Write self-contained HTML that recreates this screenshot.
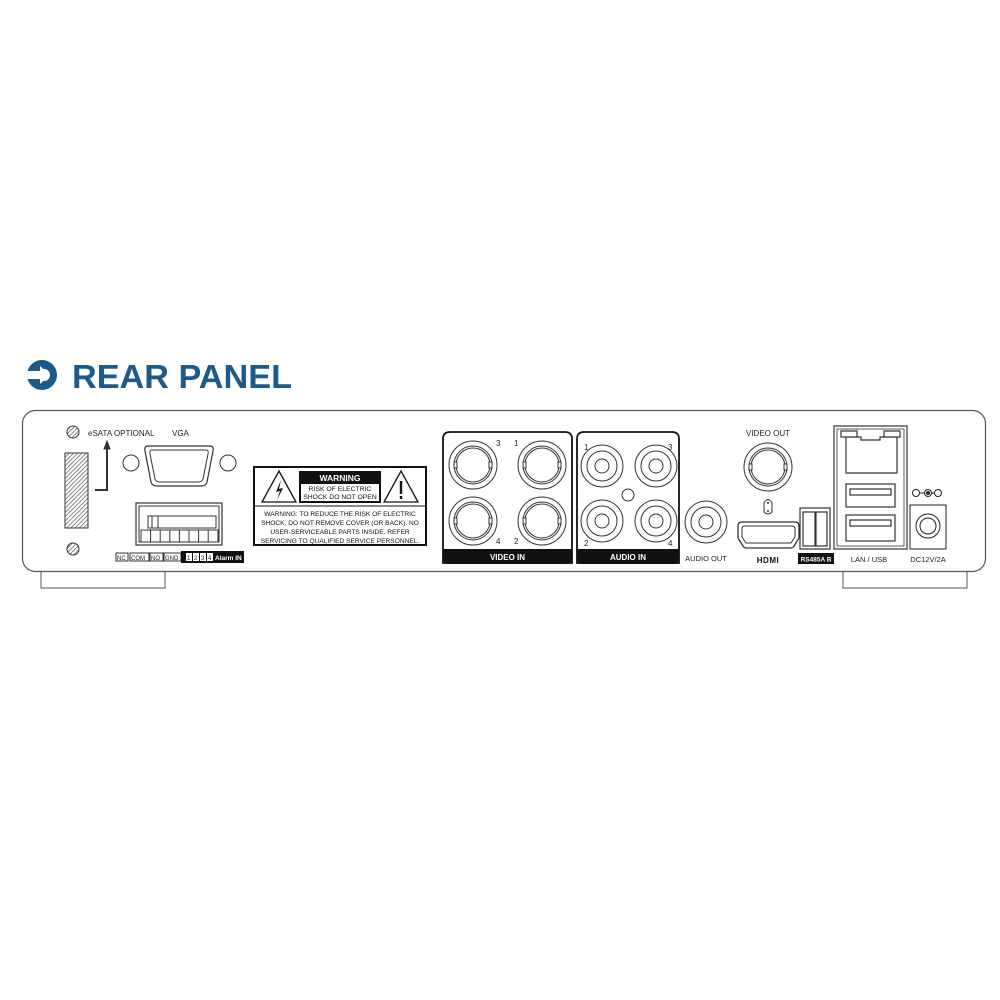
<!DOCTYPE html>
<html><head><meta charset="utf-8"><style>
html,body{margin:0;padding:0;background:#fff;}
svg{display:block;font-family:"Liberation Sans",Arial,sans-serif;}
</style></head><body>
<svg width="1000" height="1000" viewBox="0 0 1000 1000" xmlns="http://www.w3.org/2000/svg">
<defs>
<pattern id="h" width="3" height="3" patternUnits="userSpaceOnUse" patternTransform="rotate(45)">
<rect width="3" height="3" fill="#fff"/><line x1="0" y1="0" x2="0" y2="3" stroke="#555" stroke-width="1.4"/>
</pattern>
</defs>
<!-- title -->
<circle cx="42" cy="375" r="15" fill="#1d5a8c"/>
<circle cx="44" cy="375" r="6" fill="#fff"/>
<polygon points="26,371 40,371 40,366 50,375 40,384 40,379 26,379" fill="#fff"/>
<polygon points="28,371 38,371 38,379 28,379" fill="#1d5a8c" opacity="0"/>
<text x="72" y="388" font-size="33" font-weight="bold" fill="#1d5a8c" textLength="220" lengthAdjust="spacingAndGlyphs">REAR PANEL</text>

<!-- feet -->
<rect x="41" y="568" width="124" height="20" fill="#fff" stroke="#555" stroke-width="1"/>
<rect x="843" y="568" width="124" height="20" fill="#fff" stroke="#555" stroke-width="1"/>
<!-- panel -->
<rect x="22.5" y="410.5" width="963" height="161" rx="13" fill="#fff" stroke="#555" stroke-width="1.2"/>

<g stroke="#333" fill="none" stroke-width="1">
<!-- left section -->
<circle cx="73" cy="432" r="6" fill="url(#h)"/>
<circle cx="73" cy="549" r="6" fill="url(#h)"/>
<rect x="65" y="453" width="23" height="75" fill="url(#h)"/>
<polyline points="95,490 107,490 107,446" stroke-width="2"/>
<polygon points="104,449 107,441 110,449" fill="#333"/>
<circle cx="131" cy="463" r="8"/>
<circle cx="228" cy="463" r="8"/>
<path d="M148,446 H210 Q214,446 213,451 L207,482 Q206,486 201,486 H157 Q152,486 151,482 L145,451 Q144,446 148,446Z" stroke-width="1.2"/>
<path d="M152,450 H206 Q209,450 208,454 L203,479 Q202,482 198,482 H160 Q156,482 155,479 L150,454 Q149,450 152,450Z"/>
<rect x="136" y="503" width="86" height="42" stroke-width="1.2"/>
<rect x="139" y="506" width="80" height="36"/>
<rect x="148" y="516" width="68" height="12"/>
<line x1="152" y1="516" x2="152" y2="528"/><line x1="158" y1="516" x2="158" y2="528"/>
<rect x="141" y="530" width="77" height="12"/>
<line x1="150.6" y1="530" x2="150.6" y2="542"/><line x1="160.2" y1="530" x2="160.2" y2="542"/><line x1="169.8" y1="530" x2="169.8" y2="542"/><line x1="179.4" y1="530" x2="179.4" y2="542"/><line x1="189" y1="530" x2="189" y2="542"/><line x1="198.6" y1="530" x2="198.6" y2="542"/><line x1="208.2" y1="530" x2="208.2" y2="542"/>
<rect x="116" y="553" width="12" height="8"/><rect x="130" y="553" width="19" height="8"/><rect x="150" y="553" width="13" height="8"/><rect x="164" y="553" width="17" height="8"/>
</g>
<rect x="181" y="551" width="63" height="12" fill="#111"/>
<g fill="#fff"><rect x="186" y="553" width="6" height="8"/><rect x="193" y="553" width="6" height="8"/><rect x="200" y="553" width="6" height="8"/><rect x="207" y="553" width="6" height="8"/></g>
<g font-size="6" fill="#222">
<text x="117" y="560">NC</text><text x="131" y="560">COM</text><text x="151" y="560">NO</text><text x="165" y="560">GND</text>
<text x="187" y="560">1</text><text x="194" y="560">2</text><text x="201" y="560">3</text><text x="208" y="560">4</text>
</g>
<text x="215" y="560" font-size="6.5" font-weight="bold" fill="#fff">Alarm IN</text>
<text x="88" y="436" font-size="8" fill="#222">eSATA OPTIONAL</text>
<text x="172" y="436" font-size="8" fill="#222">VGA</text>

<!-- warning -->
<rect x="254" y="467" width="172" height="78" fill="#fff" stroke="#111" stroke-width="2"/>
<line x1="254" y1="506" x2="426" y2="506" stroke="#111" stroke-width="1"/>
<polygon points="279,471 296,502 262,502" fill="none" stroke="#111" stroke-width="1.3"/>
<path d="M281,480 L276,492 L280,491 L277,500 L283,488 L279,489Z" fill="#111"/>
<polygon points="401,471 418,502 384,502" fill="none" stroke="#111" stroke-width="1.3"/>
<rect x="399.8" y="481" width="2.4" height="13" fill="#111"/><rect x="399.8" y="496" width="2.4" height="3" fill="#111"/>
<rect x="299" y="471" width="82" height="32" fill="#111"/>
<rect x="301" y="484" width="78" height="17" fill="#fff"/>
<text x="340" y="481" font-size="8.5" font-weight="bold" fill="#fff" text-anchor="middle">WARNING</text>
<text x="340" y="491" font-size="6.8" fill="#111" text-anchor="middle">RISK OF ELECTRIC</text>
<text x="340" y="499" font-size="6.8" fill="#111" text-anchor="middle">SHOCK DO NOT OPEN</text>
<g font-size="6.6" fill="#111" text-anchor="middle">
<text x="340" y="516">WARNING: TO REDUCE THE RISK OF ELECTRIC</text>
<text x="340" y="525">SHOCK, DO NOT REMOVE COVER (OR BACK). NO</text>
<text x="340" y="534">USER-SERVICEABLE PARTS INSIDE. REFER</text>
<text x="340" y="543">SERVICING TO QUALIFIED SERVICE PERSONNEL.</text>
</g>

<!-- video in -->
<path d="M450,432 H565 Q572,432 572,439 V563 H443 V439 Q443,432 450,432Z" fill="#fff" stroke="#111" stroke-width="1.8"/>
<path d="M443,549 H572 V558 Q572,564 566,564 H449 Q443,564 443,558Z" fill="#111"/>
<text x="507.5" y="560" font-size="8" font-weight="bold" fill="#fff" text-anchor="middle">VIDEO IN</text>
<g stroke="#333" fill="#fff" stroke-width="1">
<g id="bnc"><circle cx="473" cy="465" r="24"/><circle cx="473" cy="465" r="19"/><circle cx="473" cy="465" r="17"/><rect x="454" y="462" width="3" height="6"/><rect x="489" y="462" width="3" height="6"/></g>
<use href="#bnc" x="69"/><use href="#bnc" y="56"/><use href="#bnc" x="69" y="56"/>
</g>
<g font-size="8" fill="#222"><text x="496" y="446">3</text><text x="514" y="446">1</text><text x="496" y="544">4</text><text x="514" y="544">2</text></g>

<!-- audio in -->
<path d="M584,432 H672 Q679,432 679,439 V563 H577 V439 Q577,432 584,432Z" fill="#fff" stroke="#111" stroke-width="1.8"/>
<path d="M577,549 H679 V558 Q679,564 673,564 H583 Q577,564 577,558Z" fill="#111"/>
<text x="628" y="560" font-size="8" font-weight="bold" fill="#fff" text-anchor="middle">AUDIO IN</text>
<g stroke="#333" fill="none" stroke-width="1">
<g id="rca"><circle cx="602" cy="466" r="21"/><circle cx="602" cy="466" r="15"/><circle cx="602" cy="466" r="7"/></g>
<use href="#rca" x="54"/><use href="#rca" y="55"/><use href="#rca" x="54" y="55"/>
<circle cx="628" cy="495" r="6"/>
<use href="#rca" x="104" y="56"/>
</g>
<g font-size="8" fill="#222"><text x="584" y="450">1</text><text x="668" y="450">3</text><text x="584" y="546">2</text><text x="668" y="546">4</text></g>
<text x="706" y="561" font-size="7.5" fill="#222" text-anchor="middle">AUDIO OUT</text>

<!-- video out -->
<text x="768" y="436" font-size="8" fill="#222" text-anchor="middle">VIDEO OUT</text>
<g stroke="#333" fill="#fff" stroke-width="1">
<use href="#bnc" x="295" y="2"/>
<path d="M764,503 Q768,496 772,503 V512 Q768,516 764,512Z"/>
<path d="M742,522 H795 Q799,522 799,526 V538 L794,546 Q793,548 790,548 H747 Q744,548 743,546 L738,538 V526 Q738,522 742,522Z" stroke-width="1.3"/>
<path d="M745,526 H792 Q795,526 795,529 V537 L791,543 H746 L742,537 V529 Q742,526 745,526Z"/>
</g>
<circle cx="768" cy="503" r="1" fill="#333"/><circle cx="768" cy="511" r="1" fill="#333"/>
<text x="768" y="563" font-size="8" font-weight="bold" fill="#111" text-anchor="middle" letter-spacing="0.5">HDMI</text>
<!-- rs485 -->
<g stroke="#333" fill="#fff" stroke-width="1.2">
<rect x="800" y="508" width="30" height="41"/>
<rect x="803" y="512" width="12" height="34"/><rect x="816" y="512" width="11" height="34"/>
</g>
<rect x="798" y="553" width="36" height="11" fill="#111"/>
<text x="816" y="561.5" font-size="6.5" font-weight="bold" fill="#fff" text-anchor="middle">RS485A B</text>
<!-- lan usb -->
<g stroke="#333" fill="#fff" stroke-width="1.2">
<rect x="834" y="426" width="73" height="123"/>
<rect x="837" y="429" width="67" height="117" stroke-width="0.8"/>
<path d="M846,437 H861 V440 H880 V437 H897 V473 H846Z"/>
<rect x="841" y="431" width="16" height="6"/><rect x="884" y="431" width="16" height="6"/>
<rect x="846" y="484" width="49" height="23"/><rect x="850" y="489" width="41" height="6"/>
<rect x="846" y="515" width="49" height="26"/><rect x="850" y="520" width="41" height="6"/>
</g>
<text x="869" y="562" font-size="7.5" fill="#222" text-anchor="middle">LAN / USB</text>
<!-- dc -->
<g stroke="#222" fill="#fff" stroke-width="1">
<line x1="912" y1="493" x2="940" y2="493"/>
<circle cx="916" cy="493" r="3.5"/><circle cx="928" cy="493" r="3.5"/><circle cx="938" cy="493" r="3.5"/>
<rect x="910" y="505" width="36" height="44"/>
<circle cx="928" cy="526" r="12"/><circle cx="928" cy="526" r="8"/>
</g>
<circle cx="928" cy="493" r="2" fill="#222"/>
<text x="928" y="562" font-size="7.5" fill="#222" text-anchor="middle">DC12V/2A</text>
</svg>
</body></html>
